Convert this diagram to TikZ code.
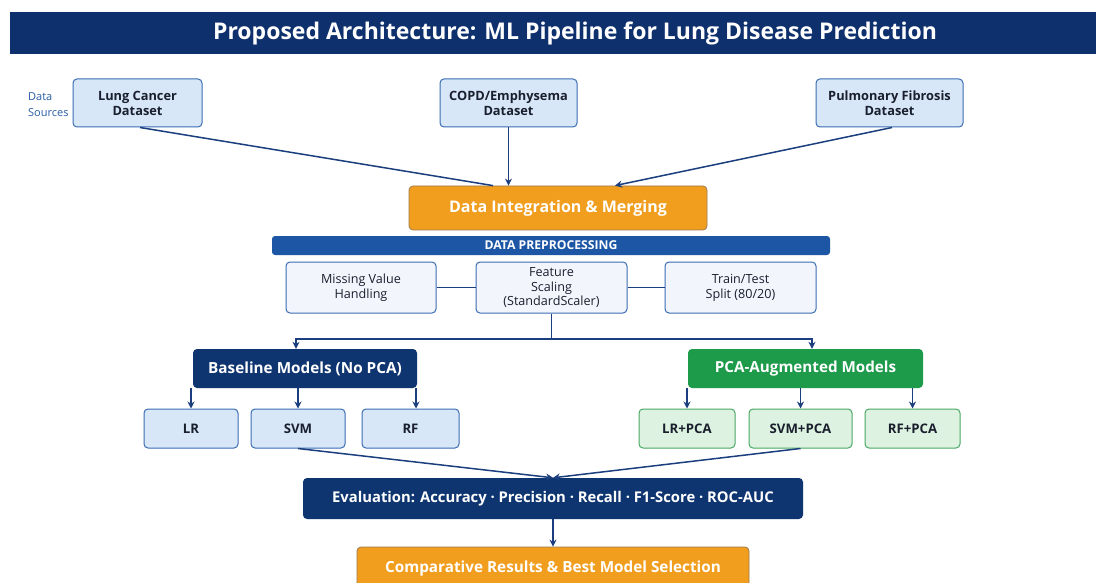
\documentclass[tikz,border=0pt]{standalone}
\usepackage{fontspec}
\setmainfont{Open Sans}
\usetikzlibrary{arrows.meta,calc}
\definecolor{navy}{HTML}{0E306D}
\definecolor{navytwo}{HTML}{0F3571}
\definecolor{prepblue}{HTML}{1C56A5}
\definecolor{orangef}{HTML}{F19E1F}
\definecolor{oranged}{HTML}{9A7A4E}
\definecolor{greenf}{HTML}{1E9A4B}
\definecolor{lightblue}{HTML}{D7E7F8}
\definecolor{boxblue}{HTML}{3B6DB3}
\definecolor{paleblue}{HTML}{F2F6FC}
\definecolor{lightgreen}{HTML}{DDF2E0}
\definecolor{boxgreen}{HTML}{4AA865}
\definecolor{linecol}{HTML}{1B3F7E}
\definecolor{srccol}{HTML}{2A5EA8}
\definecolor{txtdark}{HTML}{1A1F2E}
\tikzset{
  srcbox/.style={draw=boxblue, fill=lightblue, rounded corners=4pt, line width=1pt, align=center, font=\fontsize{12.8}{15}\selectfont\bfseries, text=txtdark, inner sep=0pt},
  orbox/.style={draw=oranged, fill=orangef, rounded corners=4pt, line width=0.8pt, align=center, text=white, inner sep=0pt},
  prepbox/.style={draw=boxblue, fill=paleblue, rounded corners=4pt, line width=1pt, align=center, font=\fontsize{12.6}{15}\selectfont, text=txtdark, inner sep=0pt},
  darkbox/.style={fill=navytwo, rounded corners=4pt, align=center, text=white, inner sep=0pt, font=\fontsize{15.3}{17}\selectfont\bfseries},
  greenbox/.style={fill=greenf, rounded corners=4pt, align=center, text=white, inner sep=0pt, font=\fontsize{15.2}{17}\selectfont\bfseries},
  modbox/.style={draw=boxblue, fill=lightblue, rounded corners=4pt, line width=1pt, align=center, font=\fontsize{13.2}{15}\selectfont\bfseries, text=txtdark, inner sep=0pt, minimum height=39pt},
  pmodbox/.style={draw=boxgreen, fill=lightgreen, rounded corners=4pt, line width=1pt, align=center, font=\fontsize{13.2}{15}\selectfont\bfseries, text=txtdark, inner sep=0pt, minimum height=39pt},
  conn/.style={draw=linecol, line width=1.5pt},
  arr/.style={conn, -{Stealth[length=7pt,width=7pt]}}
}
\begin{document}
\begin{tikzpicture}[x=1pt,y=-1pt]
\useasboundingbox (0,0) rectangle (1096,583);
\fill[white] (0,0) rectangle (1096,583);
% title
\node[fill=navy, minimum width=1086pt, minimum height=42pt, inner sep=0pt] (titlebar) at (553,33) {};
\node[text=white, font=\fontsize{23}{26}\selectfont\bfseries, inner sep=0pt] (title) at (575,33) {Proposed Architecture: ML Pipeline for Lung Disease Prediction};
% sources
\node[text=srccol, align=left, font=\fontsize{11}{16}\selectfont, inner sep=0pt, anchor=west] (srclabel) at (28,105) {Data\\Sources};
\node[srcbox, minimum width=129pt, minimum height=48pt] (lc) at (137.5,103) {Lung Cancer\\Dataset};
\node[srcbox, minimum width=137pt, minimum height=48pt] (copd) at (508.5,103) {COPD/Emphysema\\Dataset};
\node[srcbox, minimum width=147pt, minimum height=48pt] (pf) at (889.5,103) {Pulmonary Fibrosis\\Dataset};
% integration
\node[orbox, minimum width=298pt, minimum height=44pt, font=\fontsize{16}{18}\selectfont\bfseries] (integ) at (558,208) {Data Integration \& Merging};
\draw[conn] ([xshift=2.5pt]lc.south) -- ([xshift=-65pt]integ.north);
\draw[arr] (copd.south) -- (copd.south |- integ.north);
\draw[arr] ([xshift=2.5pt]pf.south) -- ([xshift=57pt]integ.north);
% preprocessing
\node[fill=prepblue, rounded corners=3pt, minimum width=558pt, minimum height=19pt, inner sep=0pt, text=white, font=\fontsize{12.2}{13}\selectfont\bfseries] (prep) at (551,245.5) {DATA PREPROCESSING};
\node[prepbox, minimum width=150pt, minimum height=51pt] (mv) at (361,287.5) {Missing Value\\Handling};
\node[prepbox, minimum width=151pt, minimum height=51pt, font=\fontsize{12.6}{14.5}\selectfont] (fs) at (551.5,287.5) {Feature\\Scaling\\(StandardScaler)};
\node[prepbox, minimum width=151pt, minimum height=51pt] (tt) at (740.5,287.5) {Train/Test\\Split (80/20)};
\draw[conn] (mv.east) -- (fs.west);
\draw[conn] (fs.east) -- (tt.west);
% branch
\node[darkbox, minimum width=224pt, minimum height=39pt] (base) at (305,368.5) {Baseline Models (No PCA)};
\node[greenbox, minimum width=235pt, minimum height=39pt] (pca) at (805.5,368.5) {PCA-Augmented Models};
\coordinate (split) at (551.5,339);
\draw[conn] (fs.south) -- (split);
\draw[arr] (split) -| ([xshift=-9pt]base.north);
\draw[arr] (split) -| ([xshift=6.5pt]pca.north);
% models
\node[modbox, minimum width=94pt] (lr) at (191,428.5) {LR};
\node[modbox, minimum width=94pt] (svm) at (298,428.5) {SVM};
\node[modbox, minimum width=97pt] (rf) at (410.5,428.5) {RF};
\node[pmodbox, minimum width=96pt] (lrp) at (687,428.5) {LR+PCA};
\node[pmodbox, minimum width=103pt] (svmp) at (800.5,428.5) {SVM+PCA};
\node[pmodbox, minimum width=95pt] (rfp) at (912.5,428.5) {RF+PCA};
\draw[arr] (base.south -| lr.north) -- (lr.north);
\draw[arr] (base.south -| svm.north) -- (svm.north);
\draw[arr] ([xshift=5.5pt]rf.north |- base.south) -- ([xshift=5.5pt]rf.north);
\draw[arr] (pca.south -| lrp.north) -- (lrp.north);
\draw[arr] (pca.south -| svmp.north) -- (svmp.north);
\draw[arr] (pca.south -| rfp.north) -- (rfp.north);
% evaluation
\node[darkbox, minimum width=500pt, minimum height=41pt, font=\fontsize{14.8}{17}\selectfont\bfseries] (eval) at (553,498.5) {Evaluation: Accuracy · Precision · Recall · F1-Score · ROC-AUC};
\draw[arr] (svm.south) -- (eval.north);
\draw[arr] (svmp.south) -- (eval.north);
% comparative
\node[orbox, minimum width=392pt, minimum height=44pt, font=\fontsize{15.3}{17}\selectfont\bfseries] (comp) at (553,569) {Comparative Results \& Best Model Selection};
\draw[arr] (eval.south) -- (comp.north);
\end{tikzpicture}
\end{document}
